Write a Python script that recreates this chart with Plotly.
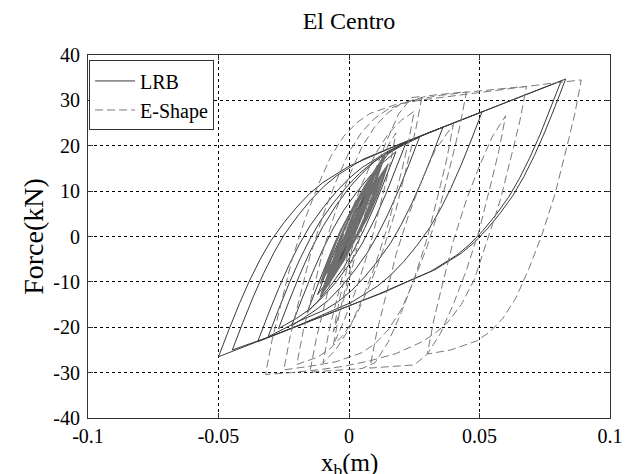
import plotly.graph_objects as go

# ---------------- data ----------------
x_ticks = [-0.1, -0.05, 0, 0.05, 0.1]
x_tick_text = ["-0.1", "-0.05", "0", "0.05", "0.1"]
y_ticks = [-40, -30, -20, -10, 0, 10, 20, 30, 40]
y_tick_text = ["-40", "-30", "-20", "-10", "0", "10", "20", "30", "40"]

# LRB hysteresis path (displacement m, force kN)
lrb_x = [0, 0.004, 0.008,
         0.004, 0, -0.003, -0.006,
         -0.002, 0.002, 0.006, 0.01, 0.013,
         0.009, 0.005, 0.001, -0.003, -0.007, -0.012,
         -0.008, -0.004, 0, 0.005, 0.01, 0.015, 0.022,
         0.018, 0.014, 0.01, 0.005, 0, -0.005, -0.01, -0.015, -0.02, -0.027,
         -0.023, -0.019, -0.015, -0.01, -0.005, 0, 0.005, 0.01, 0.015, 0.02, 0.03, 0.04, 0.051,
         0.047, 0.043, 0.039, 0.035, 0.031, 0.026, 0.021, 0.016, 0.011, 0.006, 0.001, -0.009, -0.019, -0.029, -0.0447,
         -0.0407, -0.0367, -0.0327, -0.0287, -0.0247, -0.0197, -0.0147, -0.0097, -0.0047, 0.0053, 0.0153, 0.0253, 0.04, 0.06, 0.0813,
         0.0773, 0.0733, 0.0693, 0.0653, 0.0613, 0.0563, 0.0513, 0.0463, 0.0413, 0.0313, 0.0213, 0.0113, 0.0013, -0.0187, -0.0387, -0.05,
         -0.046, -0.042, -0.038, -0.034, -0.03, -0.025, -0.02, -0.015, -0.01, -0.005, 0, 0.01, 0.02, 0.04, 0.06, 0.083,
         0.079, 0.075, 0.071, 0.067, 0.063, 0.058, 0.053, 0.048, 0.043, 0.033, 0.023, 0.013, 0.003, -0.015, -0.035,
         -0.031, -0.027, -0.023, -0.019, -0.015, -0.01, -0.005, 0, 0.005, 0.01, 0.015, 0.02, 0.036,
         0.032, 0.028, 0.024, 0.02, 0.016, 0.011, 0.006, 0.001, -0.004, -0.009, -0.019, -0.031,
         -0.027, -0.023, -0.019, -0.015, -0.011, -0.006, -0.001, 0.004, 0.009, 0.014, 0.019, 0.027,
         0.023, 0.019, 0.015, 0.011, 0.007, 0.002, -0.003, -0.008, -0.013, -0.022,
         -0.018, -0.014, -0.01, -0.006, -0.002, 0.003, 0.008, 0.013, 0.018,
         0.014, 0.01, 0.006, 0.002, -0.002, -0.007, -0.012, -0.016,
         -0.012, -0.008, -0.004, 0, 0.004, 0.008, 0.012,
         0.008, 0.004, 0, -0.004, -0.01,
         -0.006, -0.002, 0.002, 0.006, 0.009,
         0.005, 0.001, -0.003, -0.007,
         -0.003, 0.001, 0.006,
         0.002, -0.002, -0.004,
         0, 0.005,
         0.001, -0.002]
lrb_f = [0, 6, 11.5,
         5.5, -0.2, -4.2, -7.8,
         -1.8, 3.9, 9.1, 13.7, 16.7,
         10.7, 5.0, -0.2, -4.8, -8.8, -12.8,
         -6.8, -1.1, 4.1, 9.9, 14.3, 18.2, 20.9,
         14.9, 9.2, 4.0, -1.6, -6.2, -10.1, -13.3, -16.0, -18.0, -20.3,
         -14.3, -8.6, -3.4, 2.2, 6.8, 10.7, 13.9, 16.6, 18.6, 20.2, 22.75, 25.0, 27.5,
         21.5, 15.8, 10.6, 6.0, 2.0, -2.0, -5.5, -8.5, -10.9, -12.7, -14.5, -17.0, -19.5, -21.8, -25.0,
         -19.0, -13.3, -8.1, -3.5, 0.5, 4.5, 8.0, 11.0, 13.4, 17.0, 19.4, 21.7, 25.0, 29.5, 34.3,
         28.3, 22.6, 17.4, 12.8, 8.8, 4.8, 1.3, -1.7, -4.1, -7.7, -10.2, -12.7, -15.0, -19.5, -24.0, -26.5,
         -20.5, -14.8, -9.6, -5.0, -1.0, 3.0, 6.5, 9.5, 11.9, 13.7, 15.5, 18.0, 20.5, 25.0, 29.5, 34.7,
         28.7, 23.0, 17.8, 13.2, 9.2, 5.2, 1.7, -1.3, -3.7, -7.3, -9.8, -12.4, -14.6, -18.7, -23.2,
         -17.2, -11.5, -6.3, -1.7, 2.3, 6.3, 9.8, 12.8, 15.2, 17.0, 18.8, 20.3, 24.1,
         18.1, 12.4, 7.2, 2.6, -1.4, -5.4, -8.9, -11.9, -14.3, -16.1, -18.6, -22.1,
         -16.1, -10.4, -5.2, -0.6, 3.4, 7.4, 10.9, 13.9, 16.3, 18.1, 19.6, 21.9,
         15.9, 10.2, 5.0, 0.4, -3.6, -7.6, -11.1, -14.1, -16.3, -19.7,
         -13.7, -8.0, -2.8, 1.8, 5.8, 9.8, 13.3, 16.3, 18.7,
         12.7, 7.0, 1.8, -2.8, -6.8, -10.8, -14.3, -16.7,
         -10.7, -5.0, 0.2, 4.8, 8.8, 12.2, 14.9,
         8.9, 3.2, -2.0, -6.6, -12.2,
         -6.2, -0.5, 4.7, 9.3, 12.3,
         6.3, 0.6, -4.6, -9.2,
         -3.2, 2.5, 8.9,
         2.9, -2.8, -5.6,
         0.4, 7.5,
         1.5, -2.3]

# E-Shape: small cycles in the dense centre (displacement m, force kN)
eshape_core_x = [0, 0.002, 0.004, 0.006, 0.008,
                 0.006, 0.004, 0.002, 0, -0.002, -0.004,
                 -0.002, 0, 0.002, 0.004, 0.006, 0.008, 0.011,
                 0.009, 0.007, 0.005, 0.003, 0.001, -0.001, -0.004, -0.007,
                 -0.005, -0.003, -0.001, 0.001, 0.003, 0.006, 0.009, 0.013,
                 0.011, 0.009, 0.007, 0.005, 0.003, 0, -0.003, -0.006, -0.01,
                 -0.008, -0.006, -0.004, -0.002, 0, 0.003, 0.006, 0.01,
                 0.008, 0.006, 0.004, 0.002, 0, -0.003, -0.006,
                 -0.004, -0.002, 0, 0.002, 0.004, 0.007, 0.01, 0.014,
                 0.012, 0.01, 0.008, 0.006, 0.004, 0.001, -0.002, -0.005, -0.009,
                 -0.007, -0.005, -0.003, -0.001, 0.002, 0.005,
                 0.003, 0.001, -0.001, -0.003, -0.005, -0.008, -0.011,
                 -0.009, -0.007, -0.005, -0.003, -0.001, 0.002, 0.005, 0.008, 0.012,
                 0.01, 0.008, 0.006, 0.004, 0.002, -0.001, -0.004,
                 -0.002, 0, 0.002, 0.004, 0.006, 0.009,
                 0.008, 0.006, 0.004, 0.002, 0, -0.003, -0.008,
                 -0.006, -0.004, -0.002, 0, 0.002, 0.005, 0.008, 0.011,
                 0.009, 0.007, 0.005, 0.003, 0.001, -0.002, -0.006,
                 -0.004, -0.002, 0, 0.002, 0.004, 0.007, 0.01, 0.013,
                 0.011, 0.009, 0.007, 0.005, 0.003, 0, -0.003, -0.006, -0.009,
                 -0.007, -0.005, -0.003, -0.001, 0.001, 0.004, 0.008,
                 0.006, 0.004, 0.002, 0, -0.002, -0.005, -0.01,
                 -0.008, -0.006, -0.004, -0.002, 0, 0.003, 0.006, 0.01, 0.014,
                 0.012, 0.01, 0.008, 0.006, 0.004, 0.001, -0.003,
                 -0.001, 0.001, 0.003, 0.005, 0.007, 0.01, 0.015,
                 0.013, 0.011, 0.009, 0.007, 0.005, 0.002, -0.002, -0.007,
                 -0.005, -0.003, -0.001, 0.001, 0.003, 0.006, 0.009, 0.012,
                 0.01, 0.008, 0.006, 0.004, 0.002, -0.001, -0.004, -0.007, -0.011,
                 -0.009, -0.007, -0.005, -0.003, 0, 0.003, 0.006,
                 0.004, 0.002, 0, -0.002, -0.005,
                 -0.003, -0.001, 0.001, 0.003, 0.006, 0.01,
                 0.008, 0.006, 0.004, 0.002, 0]
eshape_core_f = [0, 3.5, 6.8, 9.5, 12.0,
                 8.5, 5.2, 2.5, 0, -2.0, -4.0,
                 -0.5, 2.8, 5.5, 8.0, 10.0, 12.0, 15.5,
                 12.0, 8.7, 6.0, 3.5, 1.5, -0.5, -4.0, -6.7,
                 -3.2, 0.1, 2.8, 5.3, 7.3, 10.3, 13.8, 17.3,
                 13.8, 10.5, 7.8, 5.3, 3.3, 0.3, -3.2, -5.8, -9.3,
                 -5.8, -2.5, 0.2, 2.7, 4.7, 8.0, 11.1, 14.7,
                 11.2, 7.9, 5.2, 2.7, 0.7, -2.5, -5.7,
                 -2.2, 1.1, 3.8, 6.3, 8.3, 11.5, 14.7, 18.3,
                 14.8, 11.5, 8.8, 6.3, 4.3, 1.1, -2.1, -4.8, -8.3,
                 -4.8, -1.5, 1.2, 3.7, 7.0, 10.0,
                 6.5, 3.2, 0.5, -2.0, -4.0, -7.2, -10.4,
                 -6.9, -3.6, -0.9, 1.6, 3.6, 6.8, 10.0, 12.7, 16.2,
                 12.7, 9.4, 6.7, 4.2, 2.2, -1.0, -4.2,
                 -0.7, 2.6, 5.3, 7.8, 9.8, 13.0,
                 10.5, 7.0, 4.3, 1.5, -0.6, -3.8, -10.6,
                 -7.1, -3.8, -1.1, 1.4, 3.4, 6.6, 9.8, 12.5,
                 9.0, 5.7, 3.0, 0.5, -1.5, -4.7, -8.8,
                 -5.3, -2.0, 0.7, 3.2, 5.2, 8.4, 11.6, 14.3,
                 10.8, 7.5, 4.8, 2.3, 0.3, -2.9, -6.1, -8.8, -11.5,
                 -8.0, -4.7, -2.0, 0.5, 2.5, 5.7, 9.8,
                 6.3, 3.0, 0.3, -2.2, -4.2, -7.4, -12.4,
                 -8.9, -5.6, -2.9, -0.4, 1.6, 4.8, 8.0, 11.6, 15.1,
                 11.6, 8.3, 5.6, 3.1, 1.1, -2.1, -6.2,
                 -2.7, 0.6, 3.3, 5.8, 7.8, 11.0, 16.0,
                 12.5, 9.2, 6.5, 4.0, 2.0, -1.2, -5.3, -9.8,
                 -6.3, -3.0, -0.3, 2.2, 4.2, 7.4, 10.6, 13.3,
                 9.8, 6.5, 3.8, 1.3, -0.7, -3.9, -7.1, -9.8, -13.3,
                 -9.8, -6.5, -3.8, -1.3, 1.7, 5.0, 8.0,
                 4.5, 1.2, -1.5, -4.0, -7.0,
                 -3.5, -0.2, 2.5, 5.0, 8.0, 12.5,
                 9.0, 5.7, 3.0, 0.5, -1.5]

# E-Shape: large cycles (displacement m, force kN)
eshape_x = [0.009,
            0.0065, 0.004, 0.0015, -0.001, -0.0035, -0.006,
            -0.0035, -0.001, 0.0015, 0.004, 0.0065, 0.009, 0.014, 0.019, 0.024, 0.028,
            0.0255, 0.023, 0.0205, 0.018, 0.0155, 0.013, 0.008, 0.003, -0.002, -0.007, -0.012, -0.02,
            -0.0175, -0.015, -0.0125, -0.01, -0.0075, -0.005, 0, 0.005, 0.01, 0.015, 0.02, 0.03, 0.045,
            0.0425, 0.04, 0.0375, 0.035, 0.0325, 0.03, 0.025, 0.02, 0.015, 0.01, 0.005, -0.005, -0.015, -0.025,
            -0.0225, -0.02, -0.0175, -0.015, -0.0125, -0.01, -0.005, 0, 0.005, 0.01, 0.015, 0.025, 0.035, 0.045, 0.068,
            0.0655, 0.063, 0.0605, 0.058, 0.0555, 0.053, 0.048, 0.043, 0.038, 0.033, 0.028, 0.018, 0.008, -0.002, -0.012, -0.022, -0.032,
            -0.0295, -0.027, -0.0245, -0.022, -0.0195, -0.017, -0.012, -0.007, -0.002, 0.003, 0.008, 0.018, 0.028, 0.038, 0.048, 0.058, 0.068, 0.078, 0.089,
            0.0865, 0.084, 0.0815, 0.079, 0.0765, 0.074, 0.069, 0.064, 0.059, 0.054, 0.049, 0.039, 0.03,
            0.0325, 0.035, 0.0375, 0.04, 0.0425, 0.045, 0.05, 0.055, 0.06,
            0.0575, 0.055, 0.0525, 0.05, 0.0475, 0.045, 0.04, 0.035, 0.03, 0.025, 0.015, 0.008,
            0.0105, 0.013, 0.0155, 0.018, 0.0205, 0.023, 0.028, 0.033, 0.04,
            0.0375, 0.035, 0.0325, 0.03, 0.0275, 0.025, 0.02, 0.015, 0.01, 0.005, -0.005, -0.015,
            -0.0125, -0.01, -0.0075, -0.005, -0.0025, 0, 0.005, 0.01, 0.015, 0.02, 0.025,
            0.0225, 0.02, 0.0175, 0.015, 0.0125, 0.01, 0.005, 0, -0.005, -0.01,
            -0.0075, -0.005, -0.0025, 0, 0.0025, 0.005, 0.01, 0.015, 0.018,
            0.0155, 0.013, 0.0105, 0.008, 0.0055, 0.003, -0.002, -0.006,
            -0.0035, -0.001, 0.0015, 0.004, 0.0065, 0.01]
eshape_f = [13.0,
            5.5, -0.5, -6.5, -12.0, -16.5, -21.0,
            -13.5, -7.5, -1.5, 4.0, 8.5, 13.0, 20.5, 27.0, 30.6, 30.9,
            23.4, 17.4, 11.4, 5.9, 1.4, -3.1, -10.6, -17.1, -21.6, -24.6, -26.6, -28.2,
            -20.7, -14.7, -8.7, -3.2, 1.3, 5.8, 13.3, 19.8, 24.3, 27.3, 29.3, 31.0, 31.9,
            24.4, 18.4, 12.4, 6.9, 2.4, -2.1, -9.6, -16.1, -20.6, -23.6, -25.6, -27.6, -28.6, -29.4,
            -21.9, -15.9, -9.9, -4.4, 0.1, 4.6, 12.1, 18.6, 23.1, 26.1, 28.1, 30.1, 31.1, 31.8, 33.1,
            25.6, 19.6, 13.6, 8.1, 3.6, -0.9, -9.5, -15.0, -18.8, -21.3, -23.2, -25.8, -27.4, -28.6, -29.4, -30.0, -30.4,
            -22.9, -16.9, -10.9, -5.4, -0.9, 3.6, 11.1, 17.6, 22.1, 25.1, 27.1, 29.1, 30.1, 30.85, 31.6, 32.35, 33.1, 33.8, 34.5,
            27.0, 21.0, 15.0, 9.5, 5.0, 0.5, -7.0, -13.5, -18.0, -21.0, -23.0, -25.0, -25.9,
            -18.4, -12.4, -6.4, -0.9, 3.6, 8.1, 15.6, 22.1, 26.6,
            19.1, 13.1, 7.1, 1.6, -2.9, -7.4, -14.9, -21.4, -25.9, -28.3, -28.7, -29.0,
            -21.5, -15.5, -9.5, -4.0, 0.5, 5.0, 12.5, 19.0, 24.7,
            17.2, 11.2, 5.2, -0.3, -4.8, -9.3, -16.8, -23.3, -27.8, -29.1, -29.5, -29.9,
            -22.4, -16.4, -10.4, -4.9, -0.4, 4.1, 11.6, 18.1, 22.6, 25.6, 27.6,
            20.1, 14.1, 8.1, 2.6, -1.9, -6.4, -13.9, -20.4, -24.9, -27.9,
            -20.4, -14.4, -8.4, -2.9, 1.6, 6.1, 13.6, 20.1, 22.8,
            15.3, 9.3, 3.3, -2.2, -6.7, -11.2, -18.7, -23.9,
            -16.4, -10.4, -4.4, 1.1, 5.6, 11.6]

# ---------------- figure ----------------
SERIF = "Liberation Serif"
LRB_COLOR = "#3a3a3a"
ESHAPE_COLOR = "#7a7a7a"

fig = go.Figure()
fig.add_trace(go.Scatter(
    x=lrb_x, y=lrb_f, mode="lines", name="LRB",
    line=dict(color=LRB_COLOR, width=1)))
fig.add_trace(go.Scatter(
    x=eshape_x, y=eshape_f, mode="lines", name="E-Shape", legendgroup="e",
    line=dict(color=ESHAPE_COLOR, width=1, dash="8px,4px")))
fig.add_trace(go.Scatter(
    x=eshape_core_x, y=eshape_core_f, mode="lines", name="E-Shape", legendgroup="e",
    showlegend=False,
    line=dict(color="#6e6e6e", width=1.3)))

axis_common = dict(
    showline=True, linecolor="#333333", linewidth=1, mirror="allticks",
    ticks="inside", ticklen=5, tickcolor="#333333",
    showgrid=True, gridcolor="black", gridwidth=1, griddash="dot",
    zeroline=False,
    tickfont=dict(family=SERIF, size=20, color="black"),
)

fig.update_xaxes(range=[-0.1, 0.1], tickvals=x_ticks, ticktext=x_tick_text,
                 ticklabelstandoff=0, **axis_common)
fig.update_yaxes(range=[-40, 40], tickvals=y_ticks, ticktext=y_tick_text,
                 ticklabelstandoff=3,
                 title=dict(text="Force(kN)", font=dict(family=SERIF, size=28, color="black"),
                            standoff=1),
                 **axis_common)

# x-axis title placed as an annotation so it stays inside the page
fig.add_annotation(text="x<sub>b</sub>(m)", xref="paper", yref="paper",
                   x=0.5, y=-0.08, xanchor="center", yanchor="top",
                   showarrow=False,
                   font=dict(family=SERIF, size=25, color="black"))

fig.update_layout(
    width=632, height=474,
    margin=dict(l=80, r=30, t=47, b=64),
    paper_bgcolor="white", plot_bgcolor="white",
    font=dict(family=SERIF, color="black"),
    title=dict(text="El Centro", font=dict(family=SERIF, size=24, color="black"),
               x=0.5, xref="paper", xanchor="center",
               y=1, yref="container", yanchor="top", pad=dict(t=4)),
    legend=dict(x=0.002, y=0.985, xanchor="left", yanchor="top",
                bgcolor="white", bordercolor="#333333", borderwidth=1,
                font=dict(family=SERIF, size=20, color="black"),
                tracegroupgap=0, itemwidth=40),
    showlegend=True,
)

fig.write_html("out.html")
